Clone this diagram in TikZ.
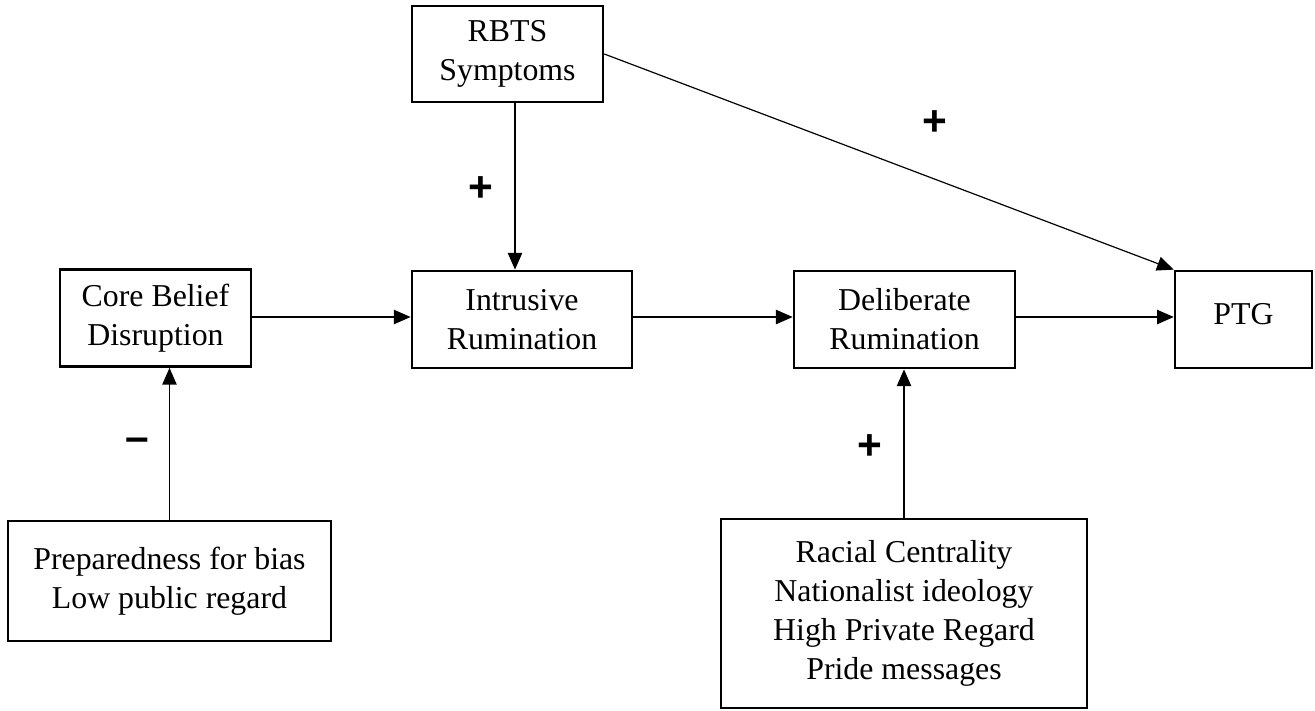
\documentclass[tikz,border=0pt]{standalone}
\usepackage{fontspec}
\setmainfont{Liberation Serif}
\newfontfamily\signfont{Liberation Sans}
\usetikzlibrary{arrows.meta}
\begin{document}
\begin{tikzpicture}[x=0.377pt,y=-0.377pt,
  box/.style={draw,line width=1pt,inner sep=0pt,align=center,
    font=\fontsize{12}{14.7}\selectfont},
  arr/.style={line width=0.45pt,-{Triangle[length=6.3pt,width=5.4pt]}},
  sign/.style={font=\signfont\bfseries\fontsize{16}{16}\selectfont}]
  \useasboundingbox (0,0) rectangle (1315,710);
  % top and middle row
  \node[box,minimum width=72pt,minimum height=36.2pt] (rbts) at (507.5,54) {RBTS\\Symptoms};
  \node[box,minimum width=72pt,minimum height=36.6pt] (core) at (155.5,318) {Core Belief\\Disruption};
  \node[box,minimum width=83pt,minimum height=36.6pt] (intr) at (522,319.5) {Intrusive\\Rumination};
  \node[box,minimum width=83.3pt,minimum height=36.6pt] (delib) at (904.5,319.5) {Deliberate\\Rumination};
  \node[box,minimum width=51.6pt,minimum height=36.6pt] (ptg) at (1243.5,319.5) {\raisebox{4pt}{PTG}};
  % bottom row
  \node[box,minimum width=121.8pt,minimum height=45.2pt] (prep) at (169.5,581) {Preparedness for bias\\Low public regard};
  \node[box,minimum width=138pt,minimum height=71.3pt] (racial) at (904,613.5) {Racial Centrality\\Nationalist ideology\\High Private Regard\\Pride messages};
  % paths
  \draw[arr] ([xshift=7.5*0.377pt]rbts.south) -- ([xshift=7.5*0.377pt]rbts.south |- intr.north);
  \draw[arr] (rbts.east) -- (ptg.north west);
  \draw[arr] (core.east |- 0,317) -- (intr.west |- 0,317);
  \draw[arr] (intr.east |- 0,317) -- (delib.west |- 0,317);
  \draw[arr] (delib.east |- 0,317) -- (ptg.west |- 0,317);
  \draw[arr] (prep.north) -- (prep.north |- core.south);
  \draw[arr] (racial.north) -- (racial.north |- delib.south);
  % signs
  \node[sign] (s1) at (481,189) {+};
  \node[sign] (s2) at (935,123) {+};
  \node[sign] (s3) at (137,445) {–};
  \node[sign] (s4) at (870,447) {+};
\end{tikzpicture}
\end{document}
